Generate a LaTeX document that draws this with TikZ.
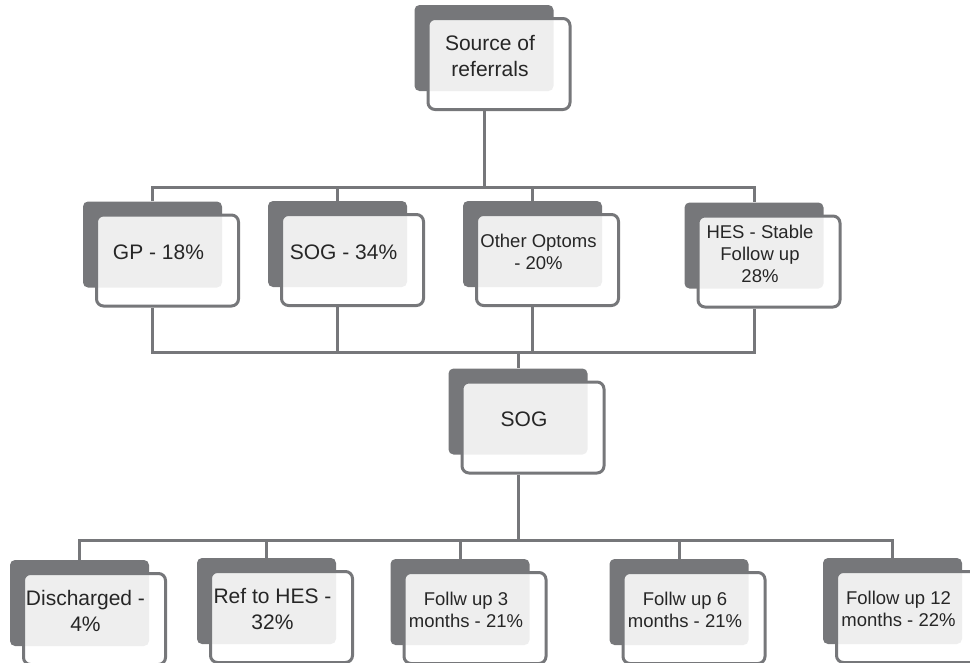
\documentclass[tikz,border=0pt]{standalone}
\usepackage{fontspec}
\setmainfont{Liberation Sans}
\definecolor{boxgray}{HTML}{76777A}
\tikzset{
  backcard/.style={fill=boxgray, rounded corners=5pt, minimum width=139pt, minimum height=86pt, inner sep=0pt},
  frontcard/.style={draw=boxgray, line width=3pt, fill=white, fill opacity=0.88, rounded corners=7pt, minimum width=142pt, minimum height=91pt, inner sep=0pt},
  boxtext/.style={align=center, text=black!85, inner sep=0pt},
  bigtext/.style={font=\fontsize{21}{25.5}\selectfont},
  smalltext/.style={font=\fontsize{18.5}{22}\selectfont},
  wire/.style={draw=boxgray, line width=3pt},
}
% one card: dark back, light front, text on the overlap
\newcommand\orgbox[4]{%
  \node[backcard] (#1-b) at (#2) {};
  \node[frontcard] (#1) at ([shift={(15,16)}]#1-b) {};
  \node[boxtext,#4] (#1-t) at ([shift={(6,8)}]#1-b) {#3};
}
\begin{document}
\begin{tikzpicture}[x=1pt, y=-1pt]
  \useasboundingbox (0,0) rectangle (970,662);

  % top
  \orgbox{src}{484,48}{Source of\\referrals}{bigtext}

  % sources
  \orgbox{gp}{152.5,244.5}{GP - 18\%}{bigtext}
  \orgbox{sogp}{337.5,244}{SOG - 34\%}{bigtext}
  \orgbox{oth}{532.5,244}{Other Optoms\\- 20\%}{smalltext}
  \orgbox{hes}{754,245.5}{HES - Stable\\Follow up\\28\%}{smalltext}

  % middle
  \orgbox{sog}{518,411.5}{SOG}{bigtext}

  % outcomes
  \orgbox{dis}{79.5,603}{Discharged -\\4\%}{bigtext}
  \orgbox{ref}{266.5,601}{Ref to HES -\\32\%}{bigtext}
  \orgbox{fa}{460,602}{Follw up 3\\months - 21\%}{smalltext}
  \orgbox{fb}{679,602}{Follw up 6\\months - 21\%}{smalltext}
  \orgbox{fc}{892.5,601}{Follow up 12\\months - 22\%}{smalltext}

  \coordinate (busa) at (0,187);
  \coordinate (busb) at (0,352);
  \coordinate (busc) at (0,540);

  % top bus
  \draw[wire] (src-b |- src.south) -- (src-b |- busa);
  \draw[wire] (gp-b.north) -- (gp-b |- busa) -- (hes-b |- busa) -- (hes-b.north);
  \foreach \n in {sogp, oth}
    \draw[wire] (\n-b.north) -- (\n-b |- busa);

  % middle bus
  \draw[wire] (gp-b |- gp.south) -- (gp-b |- busb) -- (hes-b |- busb) -- (hes-b |- hes.south);
  \foreach \n in {sogp, oth}
    \draw[wire] (\n-b |- \n.south) -- (\n-b |- busb);
  \draw[wire] (sog-b |- busb) -- (sog-b.north);

  % bottom bus
  \draw[wire] (sog-b |- sog.south) -- (sog-b |- busc);
  \draw[wire] (dis-b.north) -- (dis-b |- busc) -- (fc-b |- busc) -- (fc-b.north);
  \foreach \n in {ref, fa, fb}
    \draw[wire] (\n-b.north) -- (\n-b |- busc);
\end{tikzpicture}
\end{document}
